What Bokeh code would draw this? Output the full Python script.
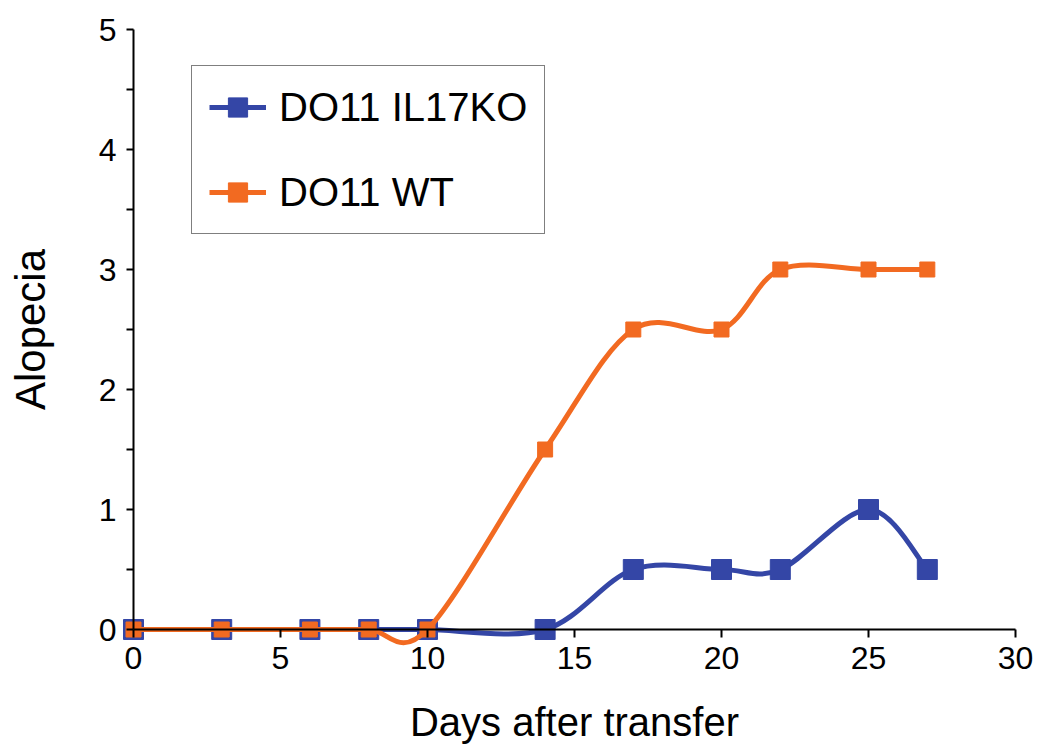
from bokeh.plotting import figure
from bokeh.models import Range1d, LinearAxis, FixedTicker, Legend, LegendItem, ColumnDataSource
from bokeh.embed import file_html
from bokeh.resources import INLINE

# ---- data ----
days = [0, 3, 6, 8, 10, 14, 17, 20, 22, 25, 27]
il17ko = [0, 0, 0, 0, 0, 0, 0.5, 0.5, 0.5, 1.0, 0.5]
wt = [0, 0, 0, 0, 0, 1.5, 2.5, 2.5, 3.0, 3.0, 3.0]
series_names = ["DO11 IL17KO", "DO11 WT"]
x_ticks = [0, 5, 10, 15, 20, 25, 30]
y_ticks = [0, 1, 2, 3, 4, 5]
y_minor_ticks = [0.5, 1.5, 2.5, 3.5, 4.5]

BLUE = "#3446a6"
ORANGE = "#f26a21"
FONT = "Liberation Sans"


def smooth_segments(xs, ys):
    """Bezier control points for a smoothed (Catmull-Rom style) line through the data."""
    n = len(xs)
    d = dict(x0=[], y0=[], x1=[], y1=[], cx0=[], cy0=[], cx1=[], cy1=[])
    for i in range(n - 1):
        a = max(i - 1, 0)
        b = min(i + 2, n - 1)
        d["x0"].append(xs[i]); d["y0"].append(ys[i])
        d["x1"].append(xs[i + 1]); d["y1"].append(ys[i + 1])
        d["cx0"].append(xs[i] + (xs[i + 1] - xs[a]) / 6.0)
        d["cy0"].append(ys[i] + (ys[i + 1] - ys[a]) / 6.0)
        d["cx1"].append(xs[i + 1] - (xs[b] - xs[i]) / 6.0)
        d["cy1"].append(ys[i + 1] - (ys[b] - ys[i]) / 6.0)
    return ColumnDataSource(d)


p = figure(width=1050, height=752,
           x_range=Range1d(-4.524, 31.19), y_range=Range1d(-1.025, 5.2417),
           output_backend="svg", toolbar_location=None,
           x_axis_location=None, y_axis_location=None,
           min_border=0)
p.outline_line_color = None
p.xgrid.visible = False
p.ygrid.visible = False

blue_src = ColumnDataSource(dict(x=days, y=il17ko))
orange_src = ColumnDataSource(dict(x=days, y=wt))

b_line = p.bezier(x0="x0", y0="y0", x1="x1", y1="y1", cx0="cx0", cy0="cy0", cx1="cx1", cy1="cy1",
                  source=smooth_segments(days, il17ko), line_color=BLUE, line_width=5)
b_mark = p.scatter("x", "y", source=blue_src, marker="square", size=20,
                   fill_color=BLUE, line_color=BLUE, line_width=1)
o_line = p.bezier(x0="x0", y0="y0", x1="x1", y1="y1", cx0="cx0", cy0="cy0", cx1="cx1", cy1="cy1",
                  source=smooth_segments(days, wt), line_color=ORANGE, line_width=5)
o_mark = p.scatter("x", "y", source=orange_src, marker="square", size=15,
                   fill_color=ORANGE, line_color=ORANGE, line_width=1)

xaxis = LinearAxis(fixed_location=0, bounds=(0, 30), ticker=FixedTicker(ticks=x_ticks),
                   axis_label="Days after transfer")
yaxis = LinearAxis(fixed_location=0, bounds=(0, 5),
                   ticker=FixedTicker(ticks=y_ticks, minor_ticks=y_minor_ticks),
                   axis_label="Alopecia")
for ax in (xaxis, yaxis):
    ax.axis_line_width = 2
    ax.axis_line_color = "black"
    ax.major_tick_line_width = 2
    ax.major_tick_line_color = "black"
    ax.major_tick_in = 0
    ax.minor_tick_in = 0
    ax.minor_tick_line_width = 2
    ax.minor_tick_line_color = "black"
    ax.major_label_text_font = FONT
    ax.major_label_text_font_size = "32px"
    ax.major_label_text_color = "black"
    ax.axis_label_text_font = FONT
    ax.axis_label_text_font_style = "normal"
    ax.axis_label_text_color = "black"
xaxis.axis_label_text_font_size = "40px"
yaxis.axis_label_text_font_size = "42px"
xaxis.major_tick_out = 8
xaxis.minor_tick_out = 0
xaxis.major_label_standoff = 9
xaxis.axis_label_standoff = 28
yaxis.major_tick_out = 7
yaxis.minor_tick_out = 7
yaxis.major_label_standoff = 10
yaxis.axis_label_standoff = 42
p.add_layout(xaxis, "below")
p.add_layout(yaxis, "left")

legend = Legend(items=[LegendItem(label=series_names[0], renderers=[b_line, b_mark]),
                       LegendItem(label=series_names[1], renderers=[o_line, o_mark])],
                location=(191, 518), margin=0, padding=17, spacing=37,
                glyph_width=57, glyph_height=48, label_height=48, label_standoff=13,
                label_text_font=FONT, label_text_font_size="40px", label_text_color="black",
                border_line_color="black", border_line_width=1.5,
                background_fill_color="white", background_fill_alpha=1.0)
p.add_layout(legend, "center")

open("out.html", "w").write(file_html(p, INLINE))
